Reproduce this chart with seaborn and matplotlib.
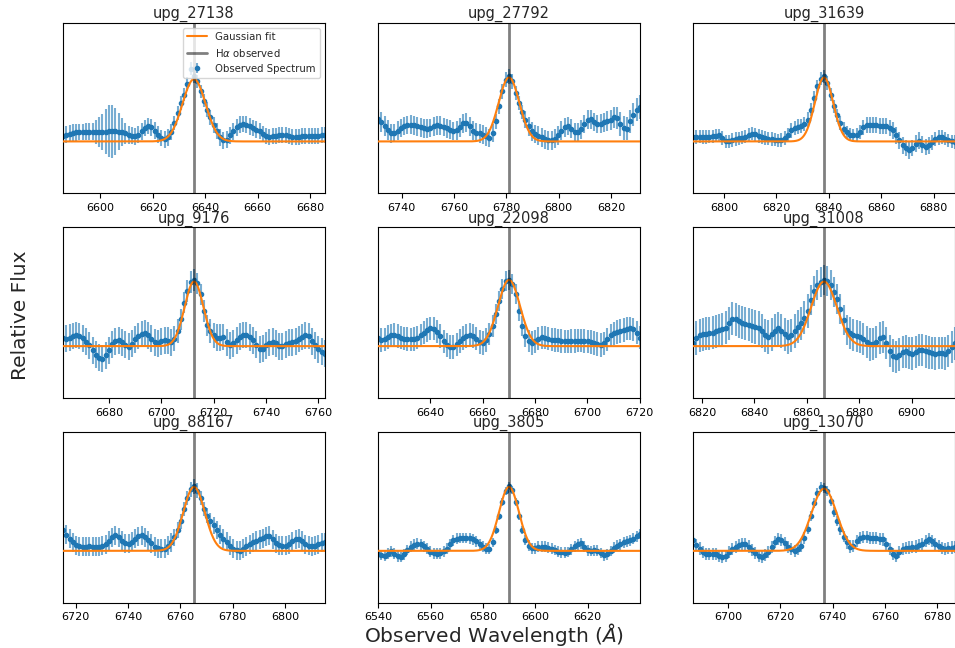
import numpy as np
import matplotlib
matplotlib.use("Agg")
import matplotlib.pyplot as plt
from matplotlib.ticker import MultipleLocator
import seaborn as sns

# ---------------- data ----------------
names = ["upg_27138", "upg_27792", "upg_31639",
         "upg_9176", "upg_22098", "upg_31008",
         "upg_88167", "upg_3805", "upg_13070"]

# observed H-alpha wavelength of each object (Angstrom)
halpha_obs = [6635.7, 6781.0, 6838.2, 6712.5, 6670.1, 6866.6, 6765.2, 6589.95, 6736.7]

# spectra: first wavelength of each cut-out, pixel step (Angstrom)
wave_start = [6585.7, 6731.0, 6788.2, 6662.5, 6620.1, 6816.6, 6715.2, 6539.95, 6686.7]
wave_step = 1.25

# Gaussian fit parameters (continuum subtracted, relative units)
gauss_amp = [1.86, 1.91, 1.91, 1.93, 1.98, 1.93, 1.91, 1.91, 1.86]
gauss_sigma = [4.4, 3.95, 3.5, 3.6, 4.2, 4.9, 4.1, 3.8, 4.8]

flux_27138 = [0.15, 0.20, 0.23, 0.26, 0.27, 0.28, 0.28, 0.29, 0.29, 0.29,
              0.28, 0.28, 0.28, 0.29, 0.30, 0.30, 0.30, 0.29, 0.27, 0.24,
              0.20, 0.17, 0.15, 0.20, 0.30, 0.40, 0.46, 0.42, 0.32, 0.20,
              0.10, 0.06, 0.12, 0.28, 0.55, 0.85, 1.15, 1.40, 1.72, 2.18,
              1.95, 1.80, 1.50, 1.22, 0.95, 0.72, 0.50, 0.30, 0.12, 0.03,
              0.05, 0.18, 0.30, 0.42, 0.50, 0.52, 0.50, 0.45, 0.40, 0.35,
              0.30, 0.22, 0.16, 0.14, 0.15, 0.17, 0.19, 0.20, 0.19, 0.17,
              0.14, 0.12, 0.13, 0.16, 0.17, 0.16, 0.15, 0.15, 0.17, 0.18,
              0.18]
err_27138 = [0.25, 0.25, 0.25, 0.25, 0.25, 0.25, 0.25, 0.25, 0.25, 0.25,
             0.35, 0.45, 0.55, 0.68, 0.78, 0.80, 0.70, 0.55, 0.42, 0.32,
             0.27, 0.25, 0.25, 0.25, 0.25, 0.25, 0.25, 0.25, 0.25, 0.25,
             0.25, 0.25, 0.25, 0.24, 0.22, 0.22, 0.20, 0.20, 0.20, 0.20,
             0.20, 0.20, 0.20, 0.20, 0.22, 0.22, 0.24, 0.24, 0.25, 0.25,
             0.25, 0.25, 0.25, 0.25, 0.25, 0.25, 0.25, 0.25, 0.25, 0.25,
             0.24, 0.24, 0.24, 0.24, 0.24, 0.24, 0.24, 0.24, 0.24, 0.24,
             0.24, 0.24, 0.24, 0.24, 0.24, 0.24, 0.24, 0.24, 0.24, 0.24,
             0.24]

flux_27792 = [0.68, 0.58, 0.45, 0.33, 0.24, 0.25, 0.32, 0.40, 0.46, 0.49,
              0.50, 0.48, 0.45, 0.42, 0.39, 0.38, 0.40, 0.45, 0.48, 0.47,
              0.43, 0.39, 0.35, 0.31, 0.33, 0.42, 0.54, 0.56, 0.45, 0.32,
              0.26, 0.24, 0.20, 0.15, 0.10, 0.25, 0.60, 1.05, 1.50, 1.85,
              1.95, 1.80, 1.45, 1.15, 0.88, 0.65, 0.45, 0.30, 0.22, 0.17,
              0.12, 0.06, 0.03, 0.03, 0.08, 0.18, 0.32, 0.42, 0.46, 0.38,
              0.28, 0.28, 0.36, 0.52, 0.65, 0.66, 0.58, 0.52, 0.53, 0.57,
              0.60, 0.64, 0.72, 0.70, 0.52, 0.40, 0.38, 0.60, 0.80, 0.95,
              1.03]
err_27792 = [0.30, 0.30, 0.30, 0.30, 0.28, 0.28, 0.28, 0.28, 0.28, 0.28,
             0.28, 0.28, 0.28, 0.28, 0.28, 0.28, 0.28, 0.28, 0.28, 0.28,
             0.28, 0.28, 0.28, 0.28, 0.28, 0.28, 0.28, 0.28, 0.28, 0.28,
             0.28, 0.28, 0.28, 0.28, 0.28, 0.26, 0.22, 0.22, 0.22, 0.22,
             0.22, 0.22, 0.22, 0.22, 0.22, 0.25, 0.28, 0.28, 0.28, 0.28,
             0.28, 0.28, 0.28, 0.28, 0.28, 0.28, 0.28, 0.28, 0.28, 0.28,
             0.28, 0.28, 0.28, 0.28, 0.28, 0.28, 0.28, 0.28, 0.28, 0.28,
             0.30, 0.30, 0.32, 0.33, 0.35, 0.35, 0.35, 0.35, 0.35, 0.35,
             0.35]

flux_31639 = [0.13, 0.13, 0.14, 0.13, 0.13, 0.14, 0.15, 0.17, 0.18, 0.10,
              0.00, 0.00, 0.04, 0.07, 0.09, 0.11, 0.14, 0.19, 0.23, 0.21,
              0.16, 0.13, 0.10, 0.08, 0.07, 0.05, 0.03, 0.04, 0.10, 0.20,
              0.33, 0.40, 0.44, 0.46, 0.52, 0.65, 0.95, 1.30, 1.65, 1.88,
              1.95, 1.75, 1.40, 1.05, 0.78, 0.55, 0.38, 0.27, 0.20, 0.18,
              0.20, 0.28, 0.42, 0.48, 0.50, 0.49, 0.48, 0.47, 0.46, 0.45,
              0.40, 0.33, 0.18, 0.03, -0.12, -0.20, -0.27, -0.20, -0.07, 0.02,
              -0.10, -0.17, -0.12, -0.03, 0.07, 0.12, 0.13, 0.08, 0.03, 0.00,
              -0.02]
err_31639 = [0.20, 0.20, 0.20, 0.20, 0.20, 0.20, 0.20, 0.20, 0.20, 0.20,
             0.20, 0.20, 0.20, 0.20, 0.20, 0.20, 0.20, 0.20, 0.20, 0.20,
             0.20, 0.20, 0.20, 0.20, 0.20, 0.20, 0.20, 0.20, 0.20, 0.20,
             0.22, 0.22, 0.22, 0.22, 0.22, 0.22, 0.20, 0.20, 0.20, 0.20,
             0.20, 0.20, 0.20, 0.20, 0.20, 0.20, 0.20, 0.20, 0.20, 0.20,
             0.20, 0.22, 0.22, 0.24, 0.24, 0.24, 0.24, 0.24, 0.24, 0.24,
             0.25, 0.25, 0.25, 0.25, 0.25, 0.25, 0.25, 0.25, 0.25, 0.25,
             0.25, 0.25, 0.25, 0.22, 0.22, 0.22, 0.20, 0.20, 0.20, 0.20,
             0.20]

flux_9176 = [0.23, 0.22, 0.25, 0.30, 0.33, 0.30, 0.23, 0.13, 0.03, -0.12,
             -0.25, -0.35, -0.37, -0.27, -0.12, 0.05, 0.15, 0.18, 0.12, 0.04,
             -0.02, 0.07, 0.20, 0.30, 0.36, 0.38, 0.32, 0.22, 0.12, 0.09,
             0.14, 0.18, 0.16, 0.12, 0.22, 0.45, 0.80, 1.30, 1.65, 1.92,
             1.98, 1.88, 1.55, 1.05, 0.62, 0.45, 0.32, 0.25, 0.25, 0.27,
             0.12, 0.02, 0.08, 0.18, 0.28, 0.33, 0.33, 0.26, 0.18, 0.04,
             -0.10, -0.08, 0.02, 0.10, 0.13, 0.08, 0.00, -0.01, 0.06, 0.10,
             0.12, 0.15, 0.21, 0.27, 0.32, 0.30, 0.15, 0.02, -0.10, -0.17,
             -0.22]
err_9176 = [0.40, 0.40, 0.40, 0.40, 0.40, 0.40, 0.40, 0.40, 0.40, 0.40,
            0.40, 0.40, 0.40, 0.40, 0.40, 0.40, 0.40, 0.40, 0.40, 0.40,
            0.40, 0.40, 0.40, 0.40, 0.40, 0.40, 0.40, 0.40, 0.40, 0.40,
            0.40, 0.40, 0.40, 0.40, 0.38, 0.35, 0.32, 0.32, 0.32, 0.32,
            0.32, 0.32, 0.32, 0.32, 0.32, 0.35, 0.38, 0.40, 0.40, 0.40,
            0.40, 0.40, 0.40, 0.40, 0.40, 0.40, 0.40, 0.40, 0.40, 0.40,
            0.40, 0.40, 0.40, 0.40, 0.40, 0.40, 0.40, 0.40, 0.40, 0.40,
            0.40, 0.40, 0.40, 0.40, 0.40, 0.40, 0.40, 0.40, 0.40, 0.40,
            0.40]

flux_22098 = [0.23, 0.18, 0.20, 0.27, 0.32, 0.33, 0.30, 0.25, 0.22, 0.21,
              0.20, 0.21, 0.25, 0.32, 0.40, 0.48, 0.53, 0.52, 0.43, 0.30,
              0.14, 0.04, -0.02, -0.03, 0.05, 0.15, 0.24, 0.30, 0.33, 0.30,
              0.22, 0.13, 0.10, 0.18, 0.35, 0.60, 0.95, 1.35, 1.70, 1.95,
              1.98, 1.85, 1.55, 1.05, 0.60, 0.30, 0.15, 0.10, 0.14, 0.22,
              0.26, 0.25, 0.22, 0.19, 0.18, 0.17, 0.15, 0.14, 0.14, 0.15,
              0.15, 0.16, 0.16, 0.15, 0.14, 0.13, 0.10, 0.06, 0.03, 0.08,
              0.20, 0.32, 0.38, 0.42, 0.45, 0.48, 0.52, 0.53, 0.50, 0.40,
              0.25]
err_22098 = [0.35, 0.35, 0.35, 0.35, 0.35, 0.35, 0.35, 0.35, 0.35, 0.35,
             0.35, 0.35, 0.35, 0.35, 0.35, 0.35, 0.35, 0.35, 0.35, 0.35,
             0.35, 0.35, 0.35, 0.35, 0.35, 0.35, 0.35, 0.35, 0.35, 0.35,
             0.35, 0.35, 0.35, 0.35, 0.33, 0.32, 0.30, 0.30, 0.30, 0.30,
             0.30, 0.30, 0.30, 0.30, 0.30, 0.32, 0.33, 0.35, 0.35, 0.35,
             0.35, 0.35, 0.35, 0.35, 0.35, 0.35, 0.35, 0.35, 0.35, 0.35,
             0.35, 0.35, 0.35, 0.35, 0.35, 0.35, 0.35, 0.35, 0.35, 0.35,
             0.35, 0.35, 0.35, 0.35, 0.35, 0.35, 0.35, 0.35, 0.35, 0.35,
             0.35]

flux_31008 = [0.10, 0.25, 0.32, 0.35, 0.37, 0.38, 0.40, 0.44, 0.47, 0.50,
              0.55, 0.68, 0.82, 0.80, 0.74, 0.70, 0.67, 0.64, 0.60, 0.57,
              0.54, 0.45, 0.32, 0.27, 0.35, 0.46, 0.53, 0.45, 0.35, 0.28,
              0.32, 0.45, 0.58, 0.68, 0.85, 1.05, 1.38, 1.65, 1.82, 1.92,
              1.98, 1.96, 1.82, 1.62, 1.40, 1.12, 0.78, 0.48, 0.38, 0.33,
              0.31, 0.28, 0.22, 0.13, 0.05, 0.06, 0.13, 0.24, 0.28, 0.10,
              -0.15, -0.28, -0.32, -0.25, -0.17, -0.16, -0.20, -0.22, -0.18, -0.12,
              -0.12, -0.16, -0.19, -0.20, -0.22, -0.20, -0.20, -0.22, -0.15, -0.02,
              0.08]
err_31008 = [0.50, 0.50, 0.50, 0.50, 0.50, 0.50, 0.50, 0.50, 0.50, 0.50,
             0.50, 0.50, 0.50, 0.50, 0.50, 0.50, 0.50, 0.50, 0.50, 0.50,
             0.50, 0.50, 0.50, 0.50, 0.50, 0.50, 0.50, 0.50, 0.50, 0.50,
             0.50, 0.50, 0.50, 0.50, 0.50, 0.50, 0.45, 0.45, 0.45, 0.45,
             0.45, 0.45, 0.45, 0.45, 0.45, 0.45, 0.45, 0.45, 0.48, 0.48,
             0.48, 0.48, 0.48, 0.48, 0.48, 0.48, 0.48, 0.48, 0.48, 0.48,
             0.48, 0.48, 0.48, 0.48, 0.48, 0.48, 0.48, 0.48, 0.48, 0.48,
             0.48, 0.48, 0.48, 0.48, 0.48, 0.48, 0.48, 0.48, 0.48, 0.48,
             0.48]

flux_88167 = [0.61, 0.48, 0.36, 0.25, 0.17, 0.14, 0.13, 0.13, 0.14, 0.13,
              0.12, 0.13, 0.16, 0.20, 0.30, 0.41, 0.46, 0.40, 0.30, 0.23,
              0.21, 0.27, 0.36, 0.43, 0.46, 0.41, 0.31, 0.22, 0.13, 0.08,
              0.06, 0.07, 0.15, 0.26, 0.40, 0.62, 0.88, 1.25, 1.58, 1.84,
              1.93, 1.80, 1.58, 1.25, 1.05, 0.90, 0.76, 0.62, 0.48, 0.36,
              0.27, 0.16, 0.07, 0.02, 0.01, 0.06, 0.14, 0.20, 0.25, 0.30,
              0.34, 0.38, 0.43, 0.45, 0.35, 0.22, 0.17, 0.16, 0.16, 0.20,
              0.28, 0.34, 0.36, 0.30, 0.20, 0.15, 0.14, 0.16, 0.20, 0.24,
              0.26]
err_88167 = [0.28, 0.28, 0.28, 0.28, 0.28, 0.28, 0.28, 0.28, 0.28, 0.28,
             0.28, 0.28, 0.28, 0.28, 0.28, 0.28, 0.28, 0.28, 0.28, 0.28,
             0.28, 0.28, 0.28, 0.28, 0.28, 0.28, 0.28, 0.28, 0.28, 0.28,
             0.28, 0.28, 0.28, 0.28, 0.26, 0.24, 0.22, 0.22, 0.22, 0.22,
             0.22, 0.22, 0.22, 0.22, 0.22, 0.24, 0.26, 0.28, 0.28, 0.28,
             0.28, 0.28, 0.28, 0.28, 0.28, 0.28, 0.28, 0.28, 0.28, 0.28,
             0.28, 0.28, 0.28, 0.28, 0.28, 0.28, 0.28, 0.28, 0.28, 0.28,
             0.28, 0.28, 0.28, 0.28, 0.28, 0.28, 0.28, 0.28, 0.28, 0.28,
             0.28]

flux_3805 = [-0.08, -0.12, -0.15, -0.08, -0.01, -0.08, -0.16, -0.18, -0.10, 0.03,
             0.13, 0.18, 0.21, 0.20, 0.14, 0.06, -0.02, -0.07, -0.08, -0.07,
             -0.01, 0.06, 0.20, 0.31, 0.36, 0.38, 0.38, 0.38, 0.37, 0.34,
             0.28, 0.20, 0.12, 0.06, 0.05, 0.25, 0.62, 1.05, 1.45, 1.80,
             1.95, 1.82, 1.45, 1.03, 0.62, 0.32, 0.16, 0.08, 0.08, 0.12,
             0.13, 0.12, 0.09, 0.06, 0.03, -0.02, -0.04, -0.05, -0.03, 0.05,
             0.14, 0.20, 0.22, 0.12, 0.02, 0.00, 0.02, 0.01, -0.06, -0.13,
             -0.10, 0.00, 0.10, 0.15, 0.20, 0.25, 0.28, 0.31, 0.36, 0.43,
             0.50]
err_3805 = [0.16, 0.16, 0.16, 0.16, 0.16, 0.16, 0.16, 0.16, 0.16, 0.16,
            0.16, 0.16, 0.16, 0.16, 0.16, 0.16, 0.16, 0.16, 0.16, 0.16,
            0.16, 0.16, 0.16, 0.16, 0.16, 0.16, 0.16, 0.16, 0.16, 0.16,
            0.16, 0.16, 0.16, 0.16, 0.15, 0.14, 0.12, 0.12, 0.12, 0.12,
            0.12, 0.12, 0.12, 0.12, 0.12, 0.14, 0.15, 0.16, 0.16, 0.16,
            0.16, 0.16, 0.16, 0.16, 0.16, 0.16, 0.16, 0.16, 0.16, 0.16,
            0.16, 0.16, 0.16, 0.16, 0.16, 0.16, 0.16, 0.16, 0.16, 0.16,
            0.16, 0.16, 0.16, 0.16, 0.16, 0.16, 0.16, 0.16, 0.16, 0.16,
            0.16]

flux_13070 = [0.31, 0.18, 0.07, -0.02, -0.08, -0.09, -0.08, -0.10, -0.15, -0.19,
              -0.14, -0.04, 0.06, 0.12, 0.17, 0.20, 0.21, 0.13, 0.03, -0.07,
              -0.15, -0.19, -0.12, -0.03, 0.12, 0.26, 0.35, 0.33, 0.22, 0.12,
              0.05, 0.01, 0.05, 0.16, 0.38, 0.65, 1.05, 1.42, 1.72, 1.90,
              1.88, 1.78, 1.50, 1.17, 0.88, 0.64, 0.42, 0.25, 0.13, 0.15,
              0.30, 0.38, 0.41, 0.40, 0.39, 0.39, 0.38, 0.36, 0.34, 0.20,
              0.06, -0.08, -0.14, -0.04, 0.06, 0.09, 0.10, 0.11, 0.13, 0.17,
              0.21, 0.30, 0.36, 0.30, 0.20, 0.14, 0.08, 0.06, 0.08, 0.10,
              0.11]
err_13070 = [0.18, 0.18, 0.18, 0.18, 0.18, 0.18, 0.18, 0.18, 0.18, 0.18,
             0.18, 0.18, 0.18, 0.18, 0.18, 0.18, 0.18, 0.18, 0.18, 0.18,
             0.18, 0.18, 0.18, 0.18, 0.18, 0.18, 0.18, 0.18, 0.18, 0.18,
             0.18, 0.18, 0.18, 0.18, 0.17, 0.16, 0.15, 0.15, 0.15, 0.15,
             0.15, 0.15, 0.15, 0.15, 0.15, 0.16, 0.17, 0.18, 0.18, 0.18,
             0.18, 0.18, 0.18, 0.18, 0.18, 0.18, 0.18, 0.18, 0.18, 0.18,
             0.18, 0.18, 0.18, 0.18, 0.18, 0.18, 0.18, 0.18, 0.18, 0.18,
             0.18, 0.18, 0.18, 0.18, 0.18, 0.18, 0.18, 0.18, 0.18, 0.18,
             0.18]

fluxes = [flux_27138, flux_27792, flux_31639, flux_9176, flux_22098,
          flux_31008, flux_88167, flux_3805, flux_13070]
errors = [err_27138, err_27792, err_31639, err_9176, err_22098,
          err_31008, err_88167, err_3805, err_13070]

# ---------------- figure ----------------
sns.set_style("white", {"axes.edgecolor": "black", "xtick.bottom": True,
                        "xtick.color": "black"})
plt.rcParams["font.family"] = ["DejaVu Sans"]

fig, axes = plt.subplots(3, 3, figsize=(9.55, 6.48), dpi=100)
fig.subplots_adjust(left=0.066, right=1.0, bottom=0.0699, top=0.965,
                    wspace=0.2023, hspace=0.20)

blue = sns.color_palette("tab10")[0]
orange = sns.color_palette("tab10")[1]

for k, ax in enumerate(axes.flat):
    fl = np.asarray(fluxes[k])
    er = np.asarray(errors[k])
    wl = wave_start[k] + wave_step * np.arange(len(fl))
    c = halpha_obs[k]
    xlo, xhi = c - 50, c + 50

    ax.errorbar(wl, fl, yerr=er, fmt="o", ms=3.0, color=blue,
                ecolor=(*blue, 0.6), elinewidth=1.5, capsize=0,
                label="Observed Spectrum", zorder=2)

    xf = np.linspace(xlo, xhi, 600)
    yf = gauss_amp[k] * np.exp(-0.5 * ((xf - c) / gauss_sigma[k]) ** 2)
    sns.lineplot(x=xf, y=yf, ax=ax, color=orange, lw=1.5,
                 label="Gaussian fit", legend=False, zorder=3)
    ax.axvline(c, color="black", alpha=0.5, lw=2,
               label=r"H$\alpha$ observed", zorder=4)

    ax.set_xlim(xlo, xhi)
    ax.set_ylim(-1.55, 3.55)
    ax.set_yticks([])
    ax.xaxis.set_major_locator(MultipleLocator(20))
    ax.tick_params(axis="x", labelsize=8, length=3.5, width=0.8,
                   direction="out", color="black")
    ax.set_xlabel("")
    ax.set_ylabel("")
    ax.set_title(names[k], fontsize=10.5, pad=3.5)
    for s in ax.spines.values():
        s.set_color("black")
        s.set_linewidth(0.8)

axes[0, 0].legend(loc="upper right", fontsize=7.3, framealpha=0.8,
                  borderpad=0.4, handlelength=2.0)

fig.text(0.517, 0.021, r"Observed Wavelength ($\AA$)", ha="center",
         va="center", fontsize=14.5)
fig.text(0.021, 0.514, "Relative Flux", ha="center", va="center",
         rotation=90, fontsize=14.5)

fig.savefig("out.png", dpi=100)
